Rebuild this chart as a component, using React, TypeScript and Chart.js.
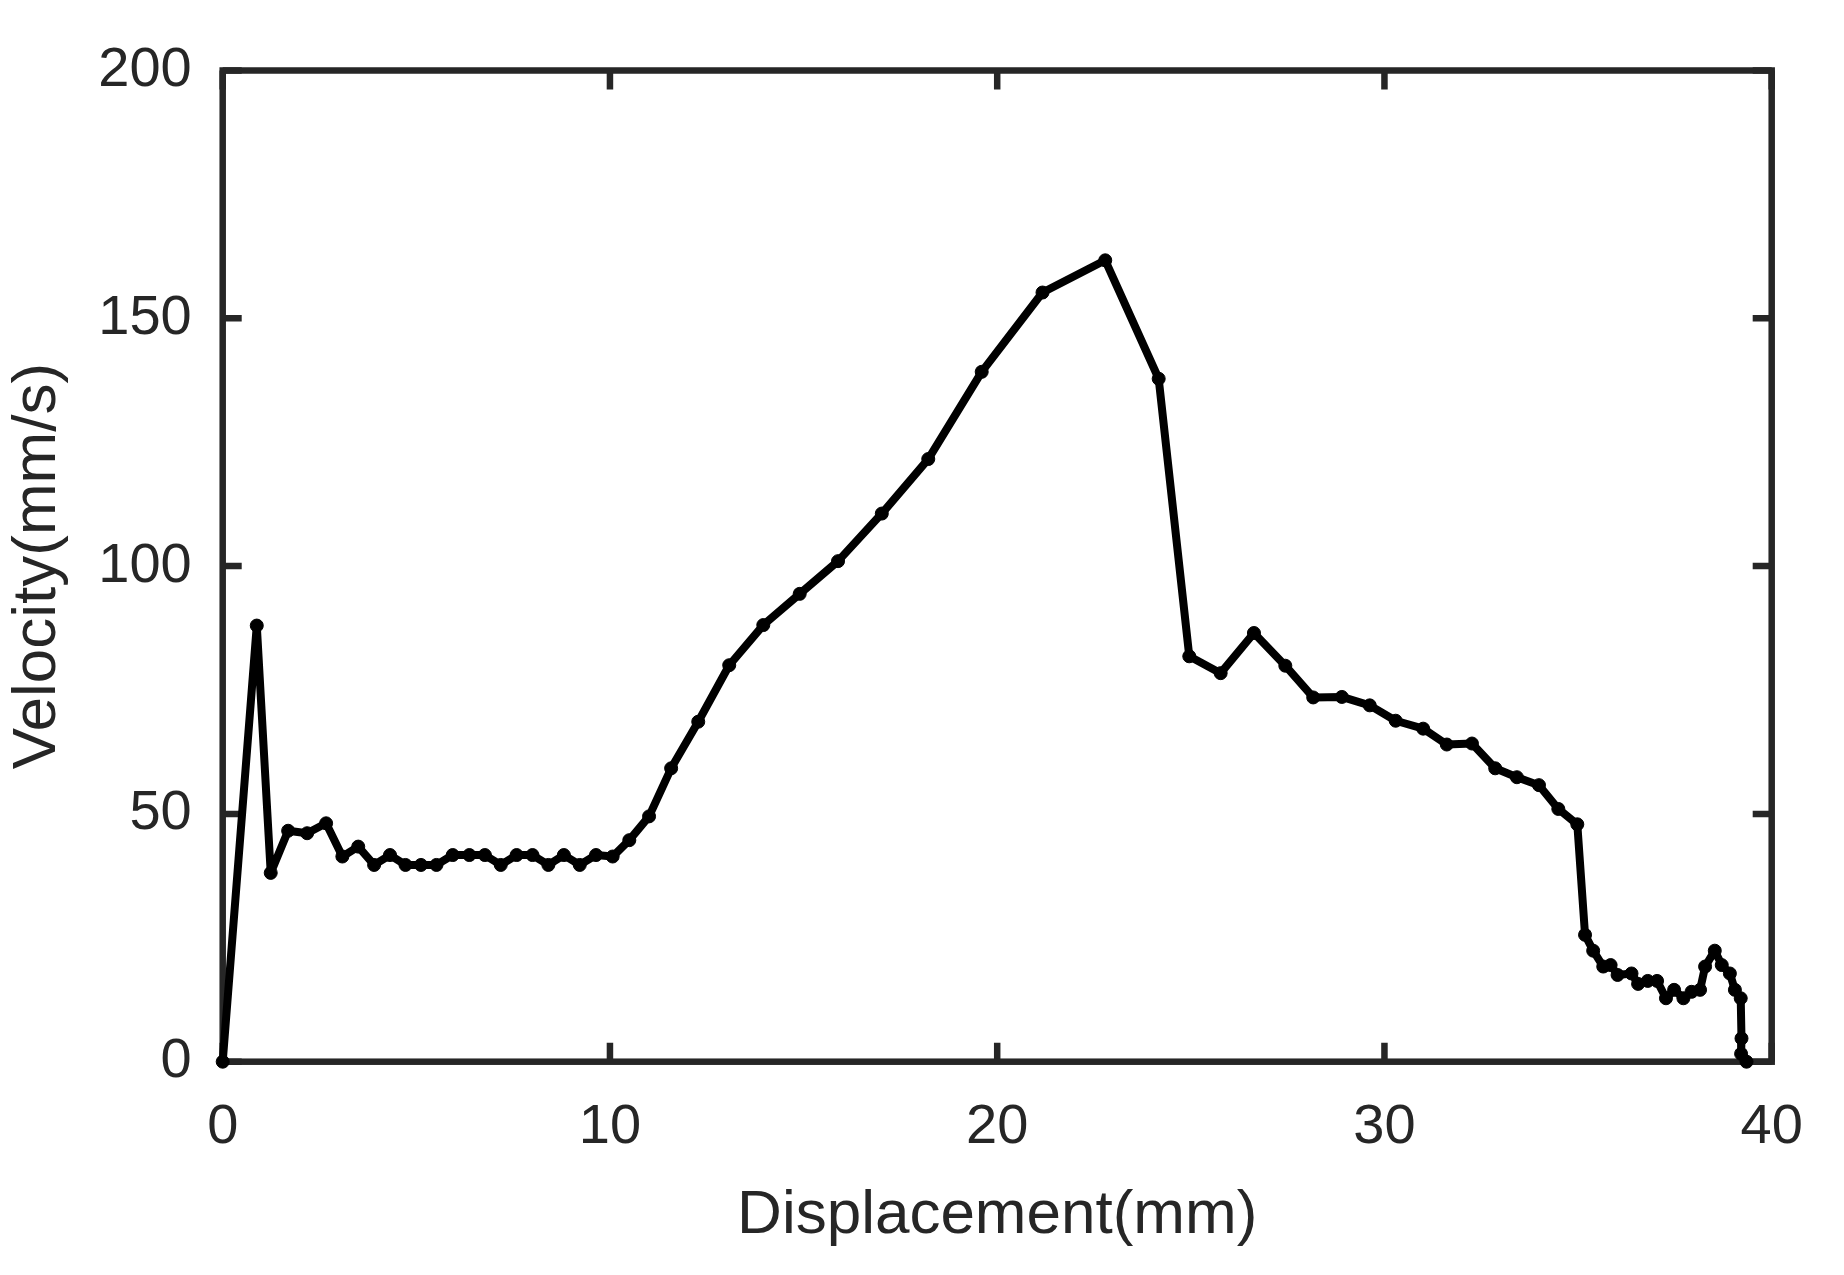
import React, { useEffect, useRef } from "react";
import { Chart, registerables } from "chart.js";

Chart.register(...registerables);

// Displacement (mm)
const displacement = [
  0, 0.88, 1.24, 1.69, 2.18, 2.67, 3.09, 3.5, 3.91, 4.32, 4.72, 5.12, 5.52, 5.94,
  6.37, 6.77, 7.18, 7.59, 8.0, 8.41, 8.81, 9.22, 9.64, 10.07, 10.5, 11.01, 11.58,
  12.28, 13.08, 13.96, 14.9, 15.89, 17.02, 18.22, 19.6, 21.17, 22.79, 24.17, 24.96,
  25.77, 26.63, 27.44, 28.16, 28.9, 29.62, 30.29, 31.0, 31.61, 32.26, 32.86, 33.42,
  33.99, 34.49, 34.98, 35.18, 35.39, 35.65, 35.84, 36.02, 36.38, 36.55, 36.8, 37.04,
  37.27, 37.48, 37.72, 37.93, 38.15, 38.28, 38.53, 38.71, 38.92, 39.05, 39.2, 39.22,
  39.21, 39.35,
];

// Velocity (mm/s)
const velocity = [
  0, 88.0, 38.1, 46.6, 46.1, 48.1, 41.4, 43.4, 39.7, 41.7, 39.7, 39.7, 39.7, 41.7,
  41.7, 41.7, 39.7, 41.7, 41.7, 39.7, 41.7, 39.7, 41.7, 41.4, 44.7, 49.5, 59.2,
  68.6, 80.0, 88.1, 94.4, 101.0, 110.6, 121.6, 139.2, 155.2, 161.7, 137.8, 81.8,
  78.4, 86.5, 79.9, 73.5, 73.6, 71.9, 68.8, 67.2, 64.0, 64.2, 59.2, 57.4,
  55.8, 51.0, 47.9, 25.6, 22.4, 19.2, 19.5, 17.5, 17.8, 15.7, 16.3, 16.3,
  12.8, 14.5, 12.8, 14.1, 14.5, 19.2, 22.4, 19.5, 17.8, 14.5, 12.8, 4.7,
  1.6, 0,
];

const xTickValues = [0, 10, 20, 30, 40];
const yTickValues = [0, 50, 100, 150, 200];

const xLabel = "Displacement(mm)";
const yLabel = "Velocity(mm/s)";

const AXIS_COLOR = "#262626";
const FONT = "'Liberation Sans', Arial, Helvetica, sans-serif";

const framePlugin = {
  id: "matlabFrame",
  beforeDatasetsDraw(chart: any) {
    const { ctx, chartArea: a, scales } = chart;
    const tl = 19;
    ctx.save();
    ctx.strokeStyle = AXIS_COLOR;
    ctx.lineWidth = 6.5;
    ctx.lineCap = "butt";
    ctx.beginPath();
    scales.x.ticks.forEach((t: any) => {
      const px = scales.x.getPixelForValue(t.value);
      ctx.moveTo(px, a.bottom);
      ctx.lineTo(px, a.bottom - tl);
      ctx.moveTo(px, a.top);
      ctx.lineTo(px, a.top + tl);
    });
    scales.y.ticks.forEach((t: any) => {
      const py = scales.y.getPixelForValue(t.value);
      ctx.moveTo(a.left, py);
      ctx.lineTo(a.left + tl, py);
      ctx.moveTo(a.right, py);
      ctx.lineTo(a.right - tl, py);
    });
    ctx.stroke();
    ctx.lineJoin = "miter";
    ctx.strokeRect(a.left, a.top, a.right - a.left, a.bottom - a.top);
    ctx.restore();
  },
};

export default function App() {
  const canvasRef = useRef<HTMLCanvasElement | null>(null);

  useEffect(() => {
    const canvas = canvasRef.current;
    if (!canvas) return;
    const chart = new Chart(canvas, {
      type: "line",
      data: {
        datasets: [
          {
            data: displacement.map((x, i) => ({ x, y: velocity[i] })),
            borderColor: "#000000",
            backgroundColor: "#000000",
            borderWidth: 8,
            borderJoinStyle: "round",
            borderCapStyle: "round",
            pointRadius: 6.5,
            pointBorderWidth: 1,
            pointBackgroundColor: "#000000",
            pointBorderColor: "#000000",
            tension: 0,
            clip: false as any,
          },
        ],
      },
      options: {
        animation: false,
        responsive: false,
        devicePixelRatio: 1,
        events: [],
        layout: {
          padding: { left: 0, top: 70.5, right: 72.3, bottom: 0 },
        },
        plugins: {
          legend: { display: false },
          tooltip: { enabled: false },
        },
        scales: {
          x: {
            type: "linear",
            position: "bottom",
            min: 0,
            max: 40,
            afterBuildTicks: (s: any) => {
              s.ticks = xTickValues.map((v) => ({ value: v }));
            },
            afterFit: (s: any) => {
              s.height = 1275 - 1061.7;
            },
            grid: { display: false, drawTicks: false },
            border: { display: false },
            ticks: {
              color: AXIS_COLOR,
              font: { family: FONT, size: 56 },
              padding: 32,
              maxRotation: 0,
              autoSkip: false,
            },
            title: {
              display: true,
              text: xLabel,
              color: AXIS_COLOR,
              font: { family: FONT, size: 62 },
              padding: { top: 0, bottom: 22 },
            },
          },
          y: {
            type: "linear",
            position: "left",
            min: 0,
            max: 200,
            afterBuildTicks: (s: any) => {
              s.ticks = yTickValues.map((v) => ({ value: v }));
            },
            afterFit: (s: any) => {
              s.width = 222.7;
            },
            grid: { display: false, drawTicks: false },
            border: { display: false },
            ticks: {
              color: AXIS_COLOR,
              font: { family: FONT, size: 56 },
              padding: 31,
              autoSkip: false,
            },
            title: {
              display: true,
              text: yLabel,
              color: AXIS_COLOR,
              font: { family: FONT, size: 62 },
              padding: { top: 1, bottom: 0 },
            },
          },
        },
      },
      plugins: [framePlugin],
    });
    return () => chart.destroy();
  }, []);

  return (
    <div
      style={{
        position: "fixed",
        left: 0,
        top: 0,
        width: 1844,
        height: 1275,
        background: "#ffffff",
      }}
    >
      <canvas ref={canvasRef} width={1844} height={1275} style={{ display: "block" }} />
    </div>
  );
}
